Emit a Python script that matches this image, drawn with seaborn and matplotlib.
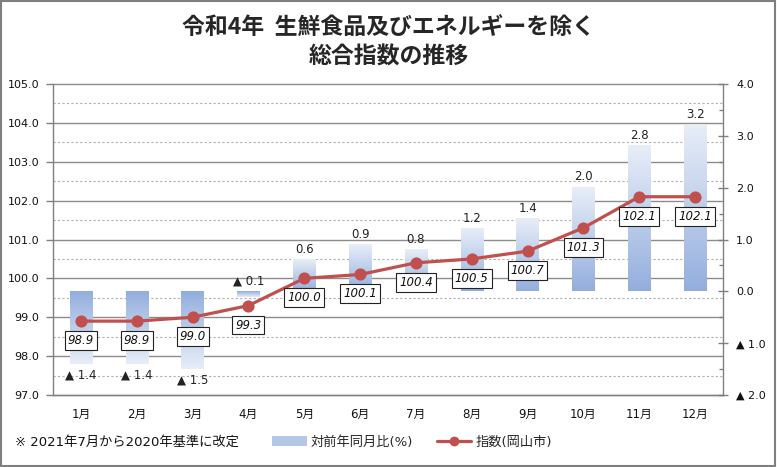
import numpy as np
import pandas as pd
import seaborn as sns
import matplotlib.pyplot as plt
import matplotlib.transforms as mtrans
from matplotlib.colors import LinearSegmentedColormap
from matplotlib.patches import Patch, Rectangle
from matplotlib.lines import Line2D
from matplotlib.ticker import FixedLocator, MultipleLocator

# data
months = ['1月', '2月', '3月', '4月', '5月', '6月', '7月', '8月', '9月', '10月', '11月', '12月']
yoy = [-1.4, -1.4, -1.5, -0.1, 0.6, 0.9, 0.8, 1.2, 1.4, 2.0, 2.8, 3.2]
index_vals = [98.9, 98.9, 99.0, 99.3, 100.0, 100.1, 100.4, 100.5, 100.7, 101.3, 102.1, 102.1]
left_ticks = [97, 98, 99, 100, 101, 102, 103, 104, 105]
right_ticks = [-2, -1, 0, 1, 2, 3, 4]
right_labels = ['▲ 2.0', '▲ 1.0', '0.0', '1.0', '2.0', '3.0', '4.0']

df = pd.DataFrame({'月': months, '対前年同月比': yoy, '指数': index_vals})

sns.set_theme(style='white')
plt.rcParams['font.family'] = ['DejaVu Sans', 'Noto Sans CJK JP']

fig = plt.figure(figsize=(7.77, 4.67), dpi=100)
axb = fig.add_axes([53 / 777, 72 / 467, 670 / 777, 311 / 467])

# bars (right scale), gradient filled
sns.barplot(data=df, x='月', y='対前年同月比', ax=axb, width=0.4, color='#B4C7E7', zorder=2)
cmap = LinearSegmentedColormap.from_list('bar', ['#93AEDD', '#E8EEF8'])
grad = np.linspace(0, 1, 256).reshape(-1, 1)
for p in axb.patches:
    x0, w, h = p.get_x(), p.get_width(), p.get_height()
    axb.imshow(grad, cmap=cmap, origin='lower', aspect='auto',
               extent=(x0, x0 + w, 0, h), zorder=2)
    p.set_facecolor('none')
    p.set_edgecolor('none')

for i, v in enumerate(yoy):
    txt = f'{v:.1f}' if v >= 0 else f'▲ {abs(v):.1f}'
    if v > -0.5:
        axb.annotate(txt, (i, max(v, 0)), xytext=(0, 3), textcoords='offset points',
                     ha='center', va='bottom', fontsize=8.5, color='#222222', zorder=4)
    else:
        axb.annotate(txt, (i, v), xytext=(0, -3), textcoords='offset points',
                     ha='center', va='top', fontsize=8.5, color='#222222', zorder=4)

# index line (left scale)
axl = axb.twinx()
sns.pointplot(data=df, x='月', y='指数', ax=axl, color='#C0504D', markers='o',
              markersize=7, linewidth=2.3, errorbar=None)
for i, v in enumerate(index_vals):
    axl.annotate(f'{v:.1f}', (i, v), xytext=(0, -14), textcoords='offset points',
                 ha='center', va='center', fontsize=8.5, style='italic', color='#111111',
                 bbox=dict(boxstyle='square,pad=0.25', fc='white', ec='#222222', lw=0.8))

axb.set_ylim(-2, 4)
axl.set_ylim(97, 105)
axb.set_xlim(-0.5, 11.5)

# grid in left-scale units, behind the bars
trans = mtrans.blended_transform_factory(axb.transAxes, axl.transData)
for g in left_ticks:
    axb.plot([0, 1], [g, g], transform=trans, color='#8C8C8C', lw=1, zorder=0, clip_on=False)
for g in np.arange(97.5, 105, 1):
    axb.plot([0, 1], [g, g], transform=trans, color='#B0B0B0', lw=0.8, ls=(0, (2, 2)), zorder=0)

# axes sides
axb.yaxis.tick_right()
axl.yaxis.tick_left()
axl.set_yticks(left_ticks)
axl.set_yticklabels([f'{t:.1f}' for t in left_ticks])
axb.set_yticks(right_ticks)
axb.set_yticklabels(right_labels)
axb.yaxis.set_minor_locator(MultipleLocator(0.5))
axb.set_xticks(range(len(months)))
axb.set_xticklabels(months)
axb.xaxis.set_minor_locator(FixedLocator(np.arange(-0.5, 12, 1)))
axb.set_xlabel('')
axb.set_ylabel('')
axl.set_ylabel('')

axb.tick_params(axis='x', which='major', length=0, pad=9, labelsize=8.5, colors='#111111')
axb.tick_params(axis='x', which='minor', length=4, direction='out', color='#808080', width=1)
axb.tick_params(axis='y', which='major', length=7, direction='inout', color='#808080',
                width=1, pad=6, labelsize=8, labelcolor='#111111')
axb.tick_params(axis='y', which='minor', length=3, direction='in', color='#808080', width=1)
axl.tick_params(axis='y', which='major', length=5, direction='out', color='#808080',
                width=1, pad=5, labelsize=8, labelcolor='#111111')

for ax in (axb, axl):
    for s in ax.spines.values():
        s.set_color('#808080')
        s.set_linewidth(1)
    ax.spines['top'].set_visible(False)
axb.spines['left'].set_visible(False)
axl.spines['right'].set_visible(False)
axl.spines['bottom'].set_visible(False)

# title
fig.text(0.5, 1 - 27 / 467, '令和4年  生鮮食品及びエネルギーを除く', ha='center', va='center',
         fontsize=16.5, fontweight='bold', family=['Noto Sans CJK JP', 'DejaVu Sans'])
fig.text(0.5, 1 - 57 / 467, '総合指数の推移', ha='center', va='center',
         fontsize=16.5, fontweight='bold', family=['Noto Sans CJK JP', 'DejaVu Sans'])

# footnote and legend
fig.text(15 / 777, 1 - 442 / 467, '※ 2021年7月から2020年基準に改定', ha='left', va='center',
         fontsize=9.5, color='#111111')
handles = [Patch(facecolor='#B4C7E7', edgecolor='none', label='対前年同月比(%)'),
           Line2D([], [], color='#C0504D', lw=2.3, marker='o', markersize=6, label='指数(岡山市)')]
fig.legend(handles=handles, loc='center', bbox_to_anchor=(412 / 777, 1 - 442 / 467), ncol=2,
           frameon=False, fontsize=9.5, handlelength=2.6, columnspacing=1.8, handletextpad=0.3)

fig.add_artist(Rectangle((0.001, 0.002), 0.997, 0.996, transform=fig.transFigure,
                         fill=False, ec='#7F7F7F', lw=1.5))

fig.savefig('out.png', dpi=100)
